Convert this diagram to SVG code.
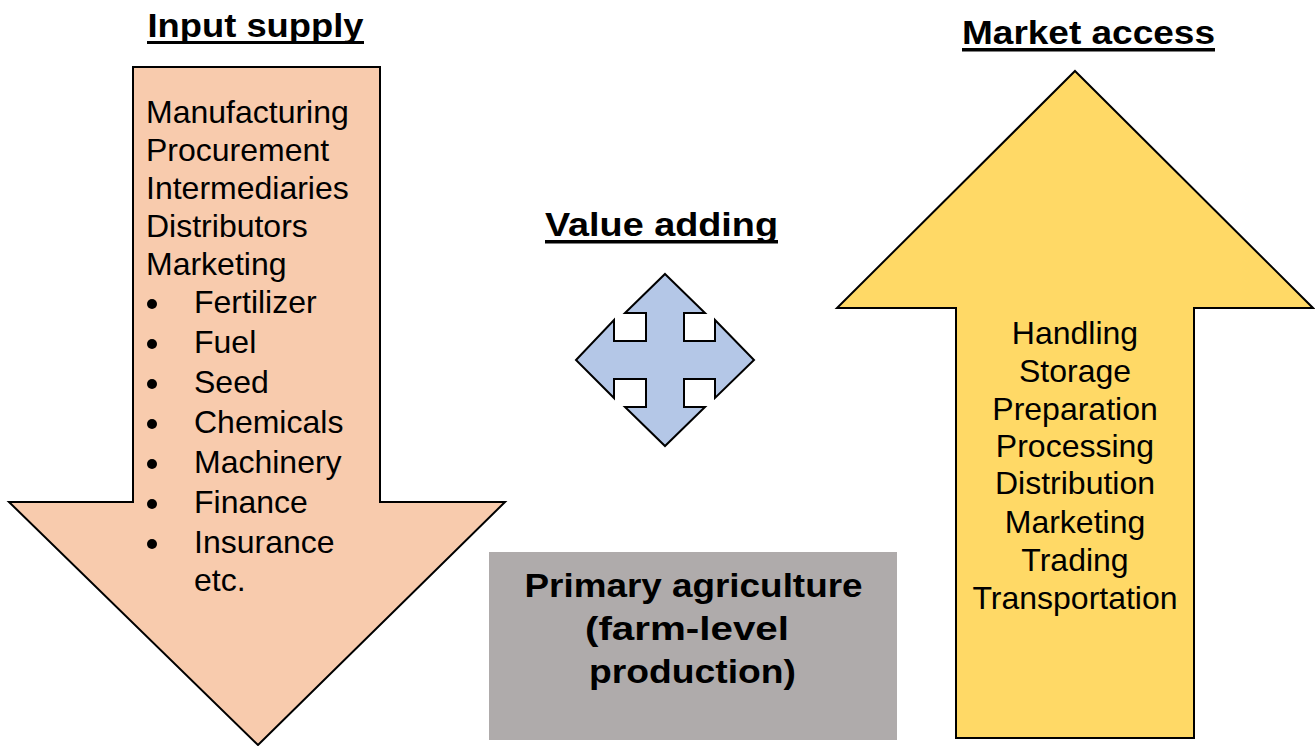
<svg xmlns="http://www.w3.org/2000/svg" width="1315" height="746" viewBox="0 0 1315 746">
<style>
.t{font-family:"Liberation Sans",Arial,sans-serif;font-size:32px;fill:#000}
.b{font-family:"Liberation Sans",Arial,sans-serif;font-weight:bold;fill:#000}
.c{text-anchor:middle}
.sh{stroke:#000;stroke-width:2;stroke-linejoin:miter}
</style>
<rect width="1315" height="746" fill="#fff"/>
<g id="input-supply">
<path class="sh" fill="#F8CBAD" d="M133,67 L380,67 L380,502 L505,502 L258,745 L9,502 L133,502 Z"/>
<text class="b c" x="255.5" y="37" font-size="34" textLength="216" lengthAdjust="spacingAndGlyphs">Input supply</text>
<rect x="147" y="41" width="217" height="3"/>
<text class="t" x="146" y="123">Manufacturing</text>
<text class="t" x="146" y="161">Procurement</text>
<text class="t" x="146" y="199">Intermediaries</text>
<text class="t" x="146" y="237">Distributors</text>
<text class="t" x="146" y="275">Marketing</text>
<g fill="#000">
<circle cx="152" cy="304" r="5"/>
<circle cx="152" cy="344" r="5"/>
<circle cx="152" cy="384" r="5"/>
<circle cx="152" cy="424" r="5"/>
<circle cx="152" cy="464" r="5"/>
<circle cx="152" cy="504" r="5"/>
<circle cx="152" cy="544" r="5"/>
</g>
<text class="t" x="194" y="313">Fertilizer</text>
<text class="t" x="194" y="353">Fuel</text>
<text class="t" x="194" y="393">Seed</text>
<text class="t" x="194" y="433">Chemicals</text>
<text class="t" x="194" y="473">Machinery</text>
<text class="t" x="194" y="513">Finance</text>
<text class="t" x="194" y="553">Insurance</text>
<text class="t" x="194" y="591">etc.</text>
</g>
<g id="value-adding">
<text class="b c" x="661.5" y="236" font-size="34" textLength="233" lengthAdjust="spacingAndGlyphs">Value adding</text>
<rect x="545" y="240" width="233" height="3.5"/>
<path class="sh" fill="#B4C7E7" d="M665,274 L705,313 L684,313 L684,341 L715,341 L715,320 L754,360 L715,398 L715,379 L684,379 L684,407 L705,407 L665,446 L625,407 L646,407 L646,379 L614,379 L614,398 L576,360 L614,320 L614,341 L646,341 L646,313 L625,313 Z"/>
</g>
<g id="primary-agriculture">
<rect x="489" y="552" width="408" height="188" fill="#AFABAB"/>
<text class="b c" x="693.5" y="597" font-size="34" textLength="338" lengthAdjust="spacingAndGlyphs">Primary agriculture</text>
<text class="b c" x="687" y="640" font-size="34" textLength="204" lengthAdjust="spacingAndGlyphs">(farm-level</text>
<text class="b c" x="692.5" y="683" font-size="34" textLength="207" lengthAdjust="spacingAndGlyphs">production)</text>
</g>
<g id="market-access">
<path class="sh" fill="#FFD966" d="M1075,71 L1313,308 L1194,308 L1194,738 L956,738 L956,308 L837,308 Z"/>
<text class="b c" x="1088.5" y="44" font-size="34" textLength="253" lengthAdjust="spacingAndGlyphs">Market access</text>
<rect x="962" y="48" width="253" height="3.5"/>
<text class="t c" x="1075" y="344">Handling</text>
<text class="t c" x="1075" y="382">Storage</text>
<text class="t c" x="1075" y="420">Preparation</text>
<text class="t c" x="1075" y="457">Processing</text>
<text class="t c" x="1075" y="494">Distribution</text>
<text class="t c" x="1075" y="533">Marketing</text>
<text class="t c" x="1075" y="571">Trading</text>
<text class="t c" x="1075" y="609">Transportation</text>
</g>
<g id="connectors"></g>
</svg>
